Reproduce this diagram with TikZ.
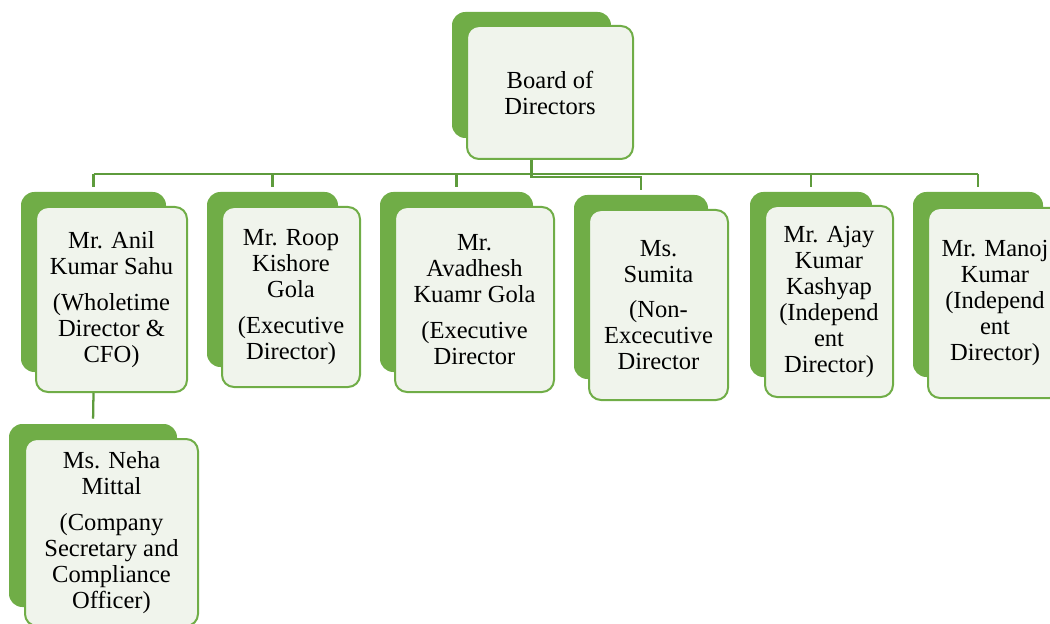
\documentclass[tikz,border=0pt]{standalone}
\usepackage{fontspec}
\setmainfont{Liberation Serif}
\usepackage{tikz}
\definecolor{boxgreen}{HTML}{70AD47}
\definecolor{linkgreen}{HTML}{5E9B3C}
\definecolor{boxfill}{HTML}{F0F4EC}

\begin{document}
\begin{tikzpicture}[x=0.75pt, y=-0.75pt,
    backbox/.style={fill=boxgreen, rounded corners=10pt, inner sep=0pt},
    frontbox/.style={draw=boxgreen, line width=1.5pt, fill=boxfill, rounded corners=9pt,
                     inner sep=2pt, align=center, font=\fontsize{18.4}{19.5}\selectfont},
    link/.style={draw=linkgreen, line width=1.7pt},
    tick/.style={link, shorten >=3.75pt}]
  \useasboundingbox (0,0) rectangle (1050,624);
  % root
  \node[backbox, minimum width=119.25pt, minimum height=94.5pt] (boardbk) at (531.5,75) {};
  \node[frontbox, minimum width=124.5pt, minimum height=99.75pt] (board) at (550,92.5)
       {Board of\\Directors};
  % directors
  \node[backbox, minimum width=108.75pt, minimum height=135pt] (anilbk) at (93.5,282) {};
  \node[frontbox, minimum width=113.25pt, minimum height=138.75pt] (anil) at (111.5,299.5)
       {Mr. Anil\\Kumar Sahu\\[7pt](Wholetime\\Director \&\\CFO)};
  \node[backbox, minimum width=98.25pt, minimum height=131.25pt] (roopbk) at (272.5,279.5) {};
  \node[frontbox, minimum width=103.5pt, minimum height=135pt] (roop) at (291,297)
       {Mr. Roop\\Kishore\\Gola\\[7pt](Executive\\Director)};
  \node[backbox, minimum width=114.75pt, minimum height=135pt] (avadheshbk) at (456.5,282) {};
  \node[frontbox, minimum width=119.25pt, minimum height=138.75pt] (avadhesh) at (474.5,299.5)
       {Mr.\\Avadhesh\\Kuamr Gola\\[7pt](Executive\\Director};
  \node[backbox, minimum width=100.5pt, minimum height=138pt] (sumitabk) at (641,287) {};
  \node[frontbox, minimum width=104.25pt, minimum height=142.5pt] (sumita) at (658.5,305)
       {Ms.\\Sumita\\[7pt](Non-\\Excecutive\\Director};
  \node[backbox, minimum width=91.5pt, minimum height=138.75pt] (ajaybk) at (811,284.5) {};
  \node[frontbox, minimum width=96pt, minimum height=143.25pt] (ajay) at (829,301.5)
       {Mr. Ajay\\Kumar\\Kashyap\\(Independ\\ent\\Director)};
  \node[backbox, minimum width=97.5pt, minimum height=138.75pt] (manojbk) at (978,284.5) {};
  \node[frontbox, minimum width=100.5pt, minimum height=142.5pt] (manoj) at (995,303)
       {Mr. Manoj\\Kumar\\(Independ\\ent\\Director)};
  % company secretary
  \node[backbox, minimum width=126pt, minimum height=137.25pt] (nehabk) at (93,515.5) {};
  \node[frontbox, minimum width=129.75pt, minimum height=140.25pt] (neha) at (111.5,532.5)
       {Ms. Neha\\Mittal\\[7pt](Company\\Secretary and\\Compliance\\Officer)};
  % connectors
  \coordinate (bus) at (0,174);
  \coordinate (jog) at (641,177);
  \draw[link] (anilbk.north |- bus) -- (manojbk.north |- bus);
  \draw[tick] (boardbk.south |- board.south) |- (jog) -- (sumitabk.north);
  \foreach \n in {anilbk, roopbk, avadheshbk, ajaybk, manojbk}
    \draw[tick] (\n.north |- bus) -- (\n.north);
  \draw[tick] (anilbk.south |- anil.south) -- (nehabk.north);
\end{tikzpicture}
\end{document}
